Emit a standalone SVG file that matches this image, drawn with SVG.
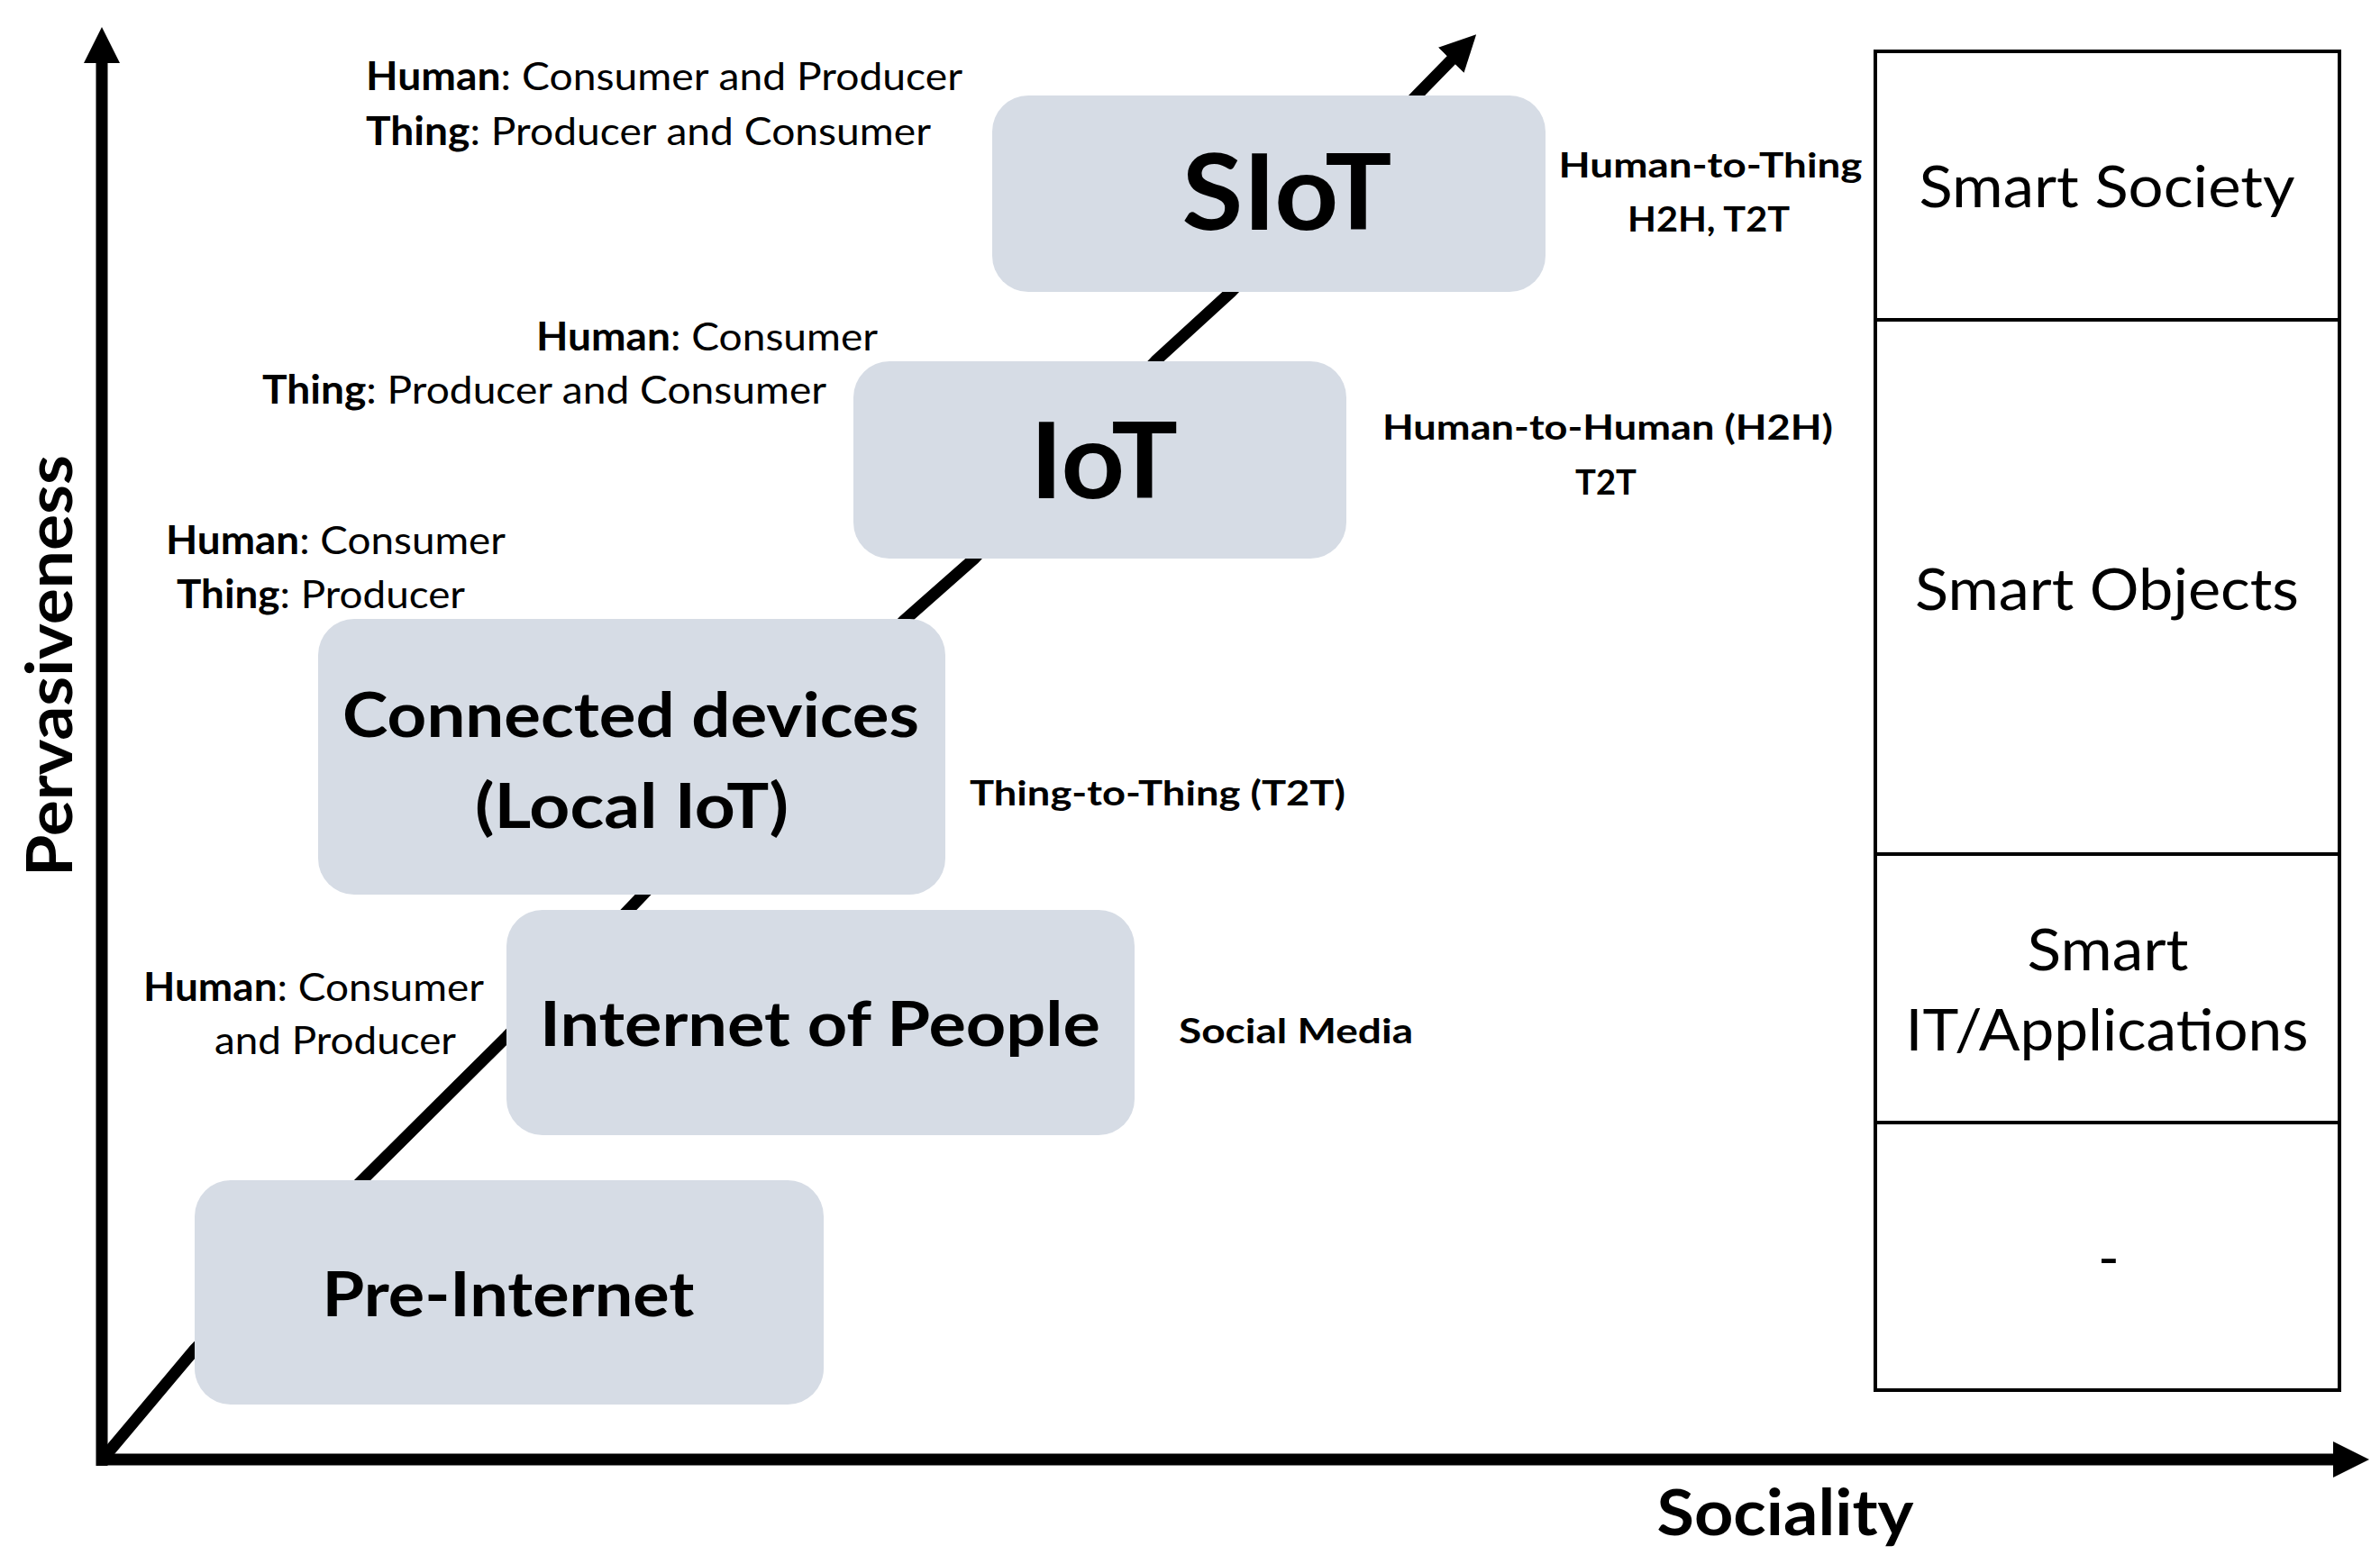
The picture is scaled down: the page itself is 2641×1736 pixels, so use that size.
<svg xmlns="http://www.w3.org/2000/svg" width="2641" height="1736" viewBox="0 0 2641 1736">
<style>
  text { font-family: Lato, "Open Sans", "Liberation Sans", sans-serif; fill: #000; }
  .b { font-weight: 700; }
  .ann { font-size: 43px; }
  .lbl { font-size: 38px; font-weight: 700; }
  .big { font-size: 116px; font-weight: 700; }
  .mid { font-size: 68px; font-weight: 700; }
  .cell { font-size: 64px; }
  .axis { font-size: 70px; font-weight: 700; }
  .box { fill: #D6DCE5; stroke: none; }
  .ln { stroke: #000; stroke-width: 13; fill: none; }
  .tbl { fill: none; stroke: #000; stroke-width: 4; }
  .c { text-anchor: middle; }
</style>
<defs>
  <marker id="ah" markerUnits="userSpaceOnUse" viewBox="0 0 40 40" markerWidth="40" markerHeight="40" refX="4" refY="20" orient="auto">
    <path d="M0,0 L40,20 L0,40 Z" fill="#000"/>
  </marker>
</defs>

<g id="connectors">
  <line id="y-axis" class="ln" x1="113" y1="1627" x2="113" y2="66" marker-end="url(#ah)"/>
  <line id="x-axis" class="ln" x1="107" y1="1620" x2="2593" y2="1620" marker-end="url(#ah)"/>
  <polyline id="diagonal" class="ln" stroke-width="11" points="116,1617 216,1498 402,1310 562,1151 706,1001 1003,689 1081,620 1283,400 1366,324 1572,106 1613,64" marker-end="url(#ah)"/>
</g>

<g id="node-pre-internet">
  <rect class="box" x="216" y="1310" width="698" height="249" rx="40" ry="40"/>
  <text class="mid c" x="564" y="1461" textLength="413" lengthAdjust="spacingAndGlyphs">Pre-Internet</text>
</g>

<g id="node-internet-of-people">
  <rect class="box" x="562" y="1010" width="697" height="250" rx="40" ry="40"/>
  <text class="mid c" x="910" y="1161" textLength="622" lengthAdjust="spacingAndGlyphs">Internet of People</text>
</g>

<g id="node-connected-devices">
  <rect class="box" x="353" y="687" width="696" height="306" rx="40" ry="40"/>
  <text class="mid c" x="700" y="818" font-size="72" textLength="640" lengthAdjust="spacingAndGlyphs">Connected devices</text>
  <text class="mid c" x="701" y="919" font-size="72" textLength="348" lengthAdjust="spacingAndGlyphs">(Local IoT)</text>
</g>

<g id="node-iot">
  <rect class="box" x="947" y="401" width="547" height="219" rx="40" ry="40"/>
  <text class="big c" x="1225" y="553" textLength="164" lengthAdjust="spacingAndGlyphs">IoT</text>
</g>

<g id="node-siot">
  <rect class="box" x="1101" y="106" width="614" height="218" rx="40" ry="40"/>
  <text class="big c" x="1428" y="255" textLength="233" lengthAdjust="spacingAndGlyphs">SIoT</text>
</g>

<g id="roles">
  <text class="ann" x="406" y="100" textLength="662" lengthAdjust="spacingAndGlyphs"><tspan class="b">Human</tspan>: Consumer and Producer</text>
  <text class="ann" x="406" y="161" textLength="627" lengthAdjust="spacingAndGlyphs"><tspan class="b">Thing</tspan>: Producer and Consumer</text>
  <text class="ann" x="595" y="389" textLength="379" lengthAdjust="spacingAndGlyphs"><tspan class="b">Human</tspan>: Consumer</text>
  <text class="ann" x="291" y="448" textLength="626" lengthAdjust="spacingAndGlyphs"><tspan class="b">Thing</tspan>: Producer and Consumer</text>
  <text class="ann" x="184" y="615" textLength="377" lengthAdjust="spacingAndGlyphs"><tspan class="b">Human</tspan>: Consumer</text>
  <text class="ann" x="196" y="675" textLength="320" lengthAdjust="spacingAndGlyphs"><tspan class="b">Thing</tspan>: Producer</text>
  <text class="ann" x="159" y="1111" textLength="378" lengthAdjust="spacingAndGlyphs"><tspan class="b">Human</tspan>: Consumer</text>
  <text class="ann" x="238" y="1170" textLength="268" lengthAdjust="spacingAndGlyphs">and Producer</text>
</g>

<g id="interactions">
  <text class="lbl c" x="1898" y="197" textLength="337" lengthAdjust="spacingAndGlyphs">Human-to-Thing</text>
  <text class="lbl c" x="1896" y="257" textLength="180" lengthAdjust="spacingAndGlyphs">H2H, T2T</text>
  <text class="lbl c" x="1784" y="488" textLength="500" lengthAdjust="spacingAndGlyphs">Human-to-Human (H2H)</text>
  <text class="lbl c" x="1782" y="549" textLength="68" lengthAdjust="spacingAndGlyphs">T2T</text>
  <text class="lbl" x="1076" y="894" font-size="40" textLength="417" lengthAdjust="spacingAndGlyphs">Thing-to-Thing (T2T)</text>
  <text class="lbl" x="1308" y="1158" textLength="260" lengthAdjust="spacingAndGlyphs">Social Media</text>
</g>

<g id="levels">
  <rect class="tbl" x="2081" y="57" width="515" height="1486"/>
  <line class="tbl" x1="2081" y1="355" x2="2596" y2="355"/>
  <line class="tbl" x1="2081" y1="948" x2="2596" y2="948"/>
  <line class="tbl" x1="2081" y1="1246" x2="2596" y2="1246"/>
  <text class="cell c" x="2338" y="230" textLength="417" lengthAdjust="spacingAndGlyphs">Smart Society</text>
  <text class="cell c" x="2338" y="677" textLength="426" lengthAdjust="spacingAndGlyphs">Smart Objects</text>
  <text class="cell c" x="2339" y="1077" textLength="179" lengthAdjust="spacingAndGlyphs">Smart</text>
  <text class="cell c" x="2338" y="1166" textLength="447" lengthAdjust="spacingAndGlyphs">IT/Applications</text>
  <text class="cell c" x="2340" y="1419">-</text>
</g>

<g id="axis-labels">
  <text class="axis c" x="1981" y="1704" textLength="285" lengthAdjust="spacingAndGlyphs">Sociality</text>
  <text class="axis c" transform="translate(80,739) rotate(-90)" x="0" y="0" textLength="468" lengthAdjust="spacingAndGlyphs">Pervasiveness</text>
</g>
</svg>
